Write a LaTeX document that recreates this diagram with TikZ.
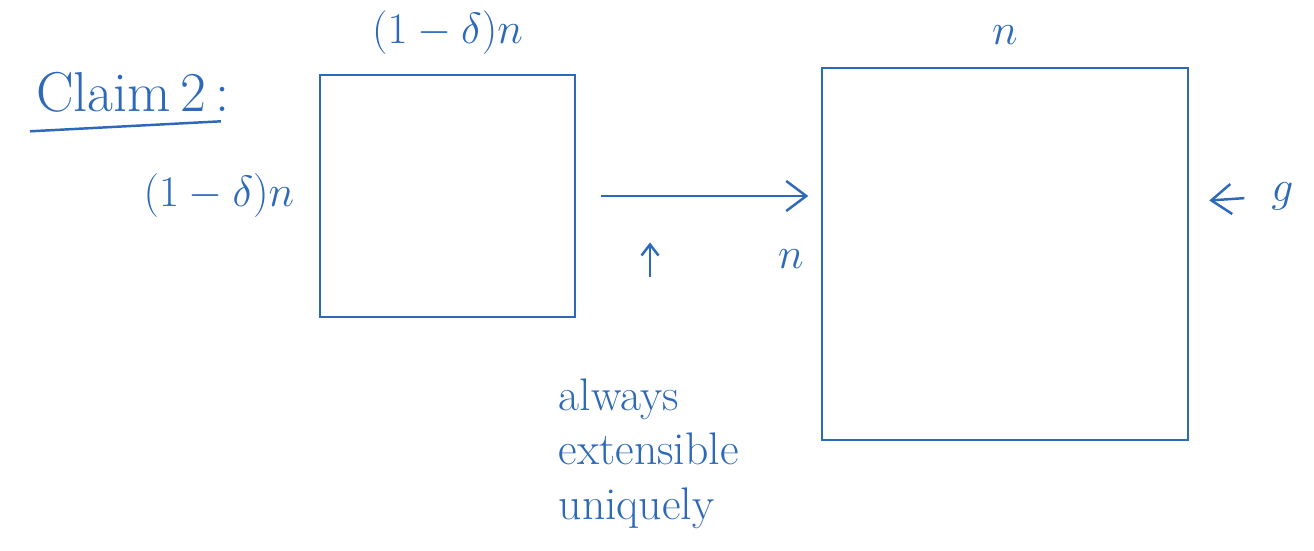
\documentclass[tikz,border=0pt]{standalone}
\usepackage{tikz}
\usetikzlibrary{arrows.meta, positioning, calc}
\definecolor{penblue}{RGB}{45, 105, 185}

\begin{document}
\begin{tikzpicture}[
  pen/.style={draw=penblue, line width=1.4pt},
  grid/.style={rectangle, pen, inner sep=0pt},
  lbl/.style={text=penblue, font=\fontsize{24}{28}\selectfont, inner sep=1pt},
  note/.style={text=penblue, font=\fontsize{26}{31}\selectfont, align=left},
  arr/.style={-{Straight Barb[length=4mm, width=6mm]}, pen}
]
  \useasboundingbox (0,0) rectangle (26.28,11);
  % title
  \node[text=penblue, font=\fontsize{32}{36}\selectfont, anchor=west] (claim) at (0.6,9.15) {Claim\,2\,:};
  \draw[pen] ($(claim.south west)+(0,-0.25)$) -- ($(claim.south east)+(-0.3,-0.05)$);
  % partial square and full square
  \node[grid, minimum width=5.1cm, minimum height=4.84cm] (small) at (8.95,7.08) {};
  \node[grid, minimum width=7.32cm, minimum height=7.44cm] (big) at (20.1,5.92) {};
  \node[lbl, above=0.35cm of small] (smalltop) {$(1-\delta)n$};
  \node[lbl, left=0.45cm of small] (smallleft) {$(1-\delta)n$};
  \node[lbl, above=0.4cm of big] (bigtop) {$n$};
  \node[lbl, left=0.3cm of big, yshift=-0.1cm] (bigleft) {$n$};
  \node[lbl, font=\fontsize{32}{36}\selectfont, right=1.6cm of big, yshift=1.15cm] (g) {$g$};
  \draw[arr, shorten <=0.5cm] (g.west) -- ++(-1.2,-0.08) coordinate (gtip);
  % extension map
  \draw[arr, shorten <=0.5cm, shorten >=0.25cm] (small.east) -- (small.east -| big.west);
  \coordinate (uptail) at (13.0,5.45);
  \coordinate (uptip) at (13.0,6.15);
  \draw[-{Straight Barb[length=2.2mm, width=3.4mm]}, pen] (uptail) -- (uptip);
  \node[note, anchor=north west] (remark) at (11.05,3.55) {always\\extensible\\uniquely};
\end{tikzpicture}
\end{document}
